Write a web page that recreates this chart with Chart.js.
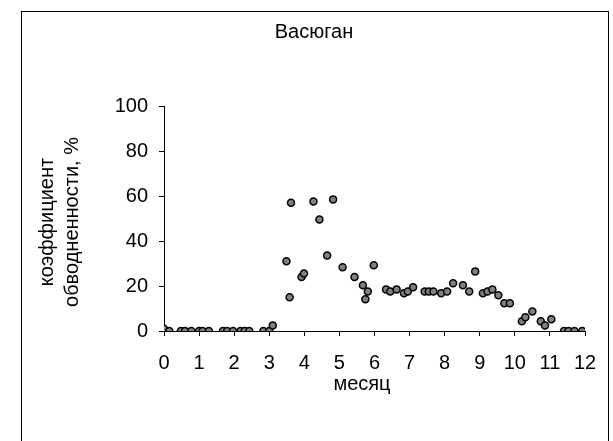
<!DOCTYPE html>
<html lang="ru">
<head>
<meta charset="utf-8">
<title>Васюган</title>
<script src="https://cdn.jsdelivr.net/npm/chart.js@4/dist/chart.umd.min.js"></script>
<style>
  html, body { margin: 0; padding: 0; background: #fff; }
  #wrap { position: relative; width: 613px; height: 441px; }
</style>
</head>
<body>
<div id="wrap"><canvas id="grafico" width="613" height="441"></canvas></div>
<script>
// Dados (mês x coeficiente de obvodnennost, %)
const meses = [
  0.0, 0.15, 0.48, 0.6, 0.78, 1.0, 1.1, 1.28, 1.68, 1.8, 1.97, 2.18, 2.3, 2.43, 2.83, 3.0, 3.1,
  3.49, 3.58, 3.62, 3.92, 3.99, 4.26, 4.43, 4.65, 4.82, 5.09, 5.43, 5.67, 5.74, 5.81, 5.98,
  6.33, 6.45, 6.63, 6.84, 6.95, 7.1, 7.43, 7.55, 7.68, 7.9, 8.07, 8.24, 8.52, 8.7, 8.87,
  9.09, 9.22, 9.36, 9.53, 9.7, 9.86, 10.2, 10.3, 10.5, 10.74, 10.86, 11.04, 11.4, 11.53, 11.7, 11.92
];
const obvodnennost = [
  1, 0, 0, 0, 0, 0, 0, 0, 0, 0, 0, 0, 0, 0, 0, 0, 2.5,
  31, 15, 57, 24, 25.6, 57.6, 49.6, 33.6, 58.5, 28.3, 24, 20.3, 14.1, 17.6, 29.2,
  18.5, 17.6, 18.5, 16.8, 17.6, 19.4, 17.6, 17.6, 17.6, 16.8, 17.6, 21.2, 20.3, 17.6, 26.5,
  16.8, 17.6, 18.5, 15.9, 12.3, 12.3, 4.3, 6.1, 8.7, 4.3, 2.5, 5.2, 0, 0, 0, 0
];
const xTicks = [0, 1, 2, 3, 4, 5, 6, 7, 8, 9, 10, 11, 12];
const yTicks = [0, 20, 40, 60, 80, 100];

const titulo = 'Васюган';
const tituloX = 'месяц';
const tituloY = ['коэффициент', 'обводненности, %'];

const FONTE = 'Liberation Sans, Arial, sans-serif';
const TAM = 20;

Chart.defaults.font.family = FONTE;
Chart.defaults.font.size = TAM;
Chart.defaults.color = '#000';

// Moldura e textos no estilo do Excel
const molduraPlugin = {
  id: 'moldura',
  afterDraw(chart) {
    const c = chart.ctx;
    c.save();
    c.strokeStyle = '#000';
    c.lineWidth = 1;
    c.strokeRect(21.5, 11.5, 587, 440);

    c.fillStyle = '#000';
    c.font = TAM + 'px ' + FONTE;
    c.textAlign = 'center';
    c.textBaseline = 'middle';
    c.fillText(titulo, 314, 32);
    c.fillText(tituloX, 362, 384);

    c.translate(47, 222);
    c.rotate(-Math.PI / 2);
    c.fillText(tituloY[0], 0, 0);
    c.fillText(tituloY[1], 0, 25);
    c.restore();
  }
};

const ctx = document.getElementById('grafico');

new Chart(ctx, {
  type: 'scatter',
  data: {
    datasets: [{
      data: meses.map((m, i) => ({ x: m, y: obvodnennost[i] })),
      backgroundColor: '#808080',
      borderColor: '#000',
      borderWidth: 1.5,
      pointRadius: 3.5,
      pointHoverRadius: 3.5
    }]
  },
  options: {
    responsive: false,
    animation: false,
    events: [],
    layout: { padding: { top: 106, right: 28, left: 0, bottom: 0 } },
    plugins: {
      legend: { display: false },
      title: { display: false },
      tooltip: { enabled: false }
    },
    scales: {
      x: {
        type: 'linear',
        min: 0,
        max: 12,
        afterBuildTicks: (s) => { s.ticks = xTicks.map(v => ({ value: v })); },
        afterFit: (s) => { s.height = 110; s.paddingLeft = 0; s.paddingRight = 0; },
        grid: { drawOnChartArea: false, drawTicks: true, tickLength: 5, color: '#000', lineWidth: 1 },
        border: { color: '#000', width: 1 },
        ticks: { padding: 15, maxRotation: 0, autoSkip: false }
      },
      y: {
        type: 'linear',
        min: 0,
        max: 100,
        afterBuildTicks: (s) => { s.ticks = yTicks.map(v => ({ value: v })); },
        afterFit: (s) => { s.width = 164; s.paddingTop = 0; s.paddingBottom = 0; },
        grid: { drawOnChartArea: false, drawTicks: true, tickLength: 5, color: '#000', lineWidth: 1 },
        border: { color: '#000', width: 1 },
        ticks: { padding: 11 }
      }
    }
  },
  plugins: [molduraPlugin]
});
</script>
</body>
</html>
